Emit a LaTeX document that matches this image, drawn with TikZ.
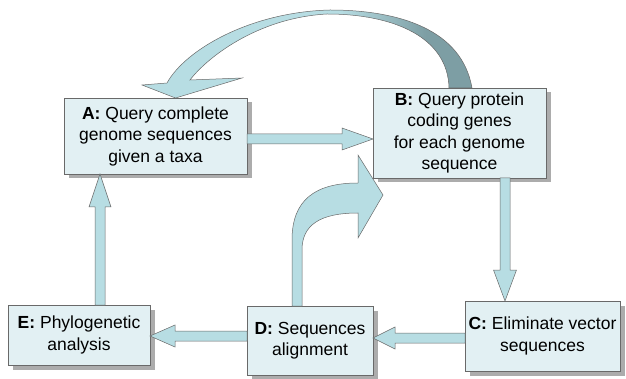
\documentclass[tikz,border=0pt]{standalone}
\usepackage{fontspec}
\setmainfont{Liberation Sans}
\usetikzlibrary{calc,shadows}

\definecolor{boxfill}{RGB}{226,240,243}
\definecolor{arrowfill}{RGB}{183,221,227}
\definecolor{arrowdark}{RGB}{125,158,164}
\definecolor{edgegray}{RGB}{105,105,105}
\definecolor{shadowgray}{RGB}{172,172,172}

\pgfdeclarehorizontalshading{arcshade}{100bp}{color(0bp)=(arrowfill); color(55bp)=(arrowfill); color(68bp)=(arrowdark); color(100bp)=(arrowdark)}

\tikzset{
  stepbox/.style={draw=edgegray, line width=0.6pt, fill=boxfill, inner sep=0pt, outer sep=0pt,
    align=center, font=\fontsize{17.5}{21.5}\selectfont,
    drop shadow={shadow xshift=4.5pt, shadow yshift=-4.5pt, fill=shadowgray, opacity=1}},
  blockarrow/.style={fill=arrowfill, draw=edgegray, line width=0.5pt, line join=miter},
}

% straight block arrow: #1 start, #2 tip, #3 head length, #4 head half width
\newcommand\blockarrow[4]{%
  \coordinate (hb) at ($(#2)!#3pt!(#1)$);
  \path[blockarrow] ($(#1)!5pt!90:(#2)$) -- ($(hb)!5pt!-90:(#1)$) -- ($(hb)!#4pt!-90:(#1)$)
    -- (#2) -- ($(hb)!#4pt!90:(#1)$) -- ($(hb)!5pt!90:(#1)$) -- ($(#1)!5pt!-90:(#2)$) -- cycle;
}

\begin{document}
\begin{tikzpicture}[x=1pt,y=-1pt]
\useasboundingbox (0,0) rectangle (626,379);

% process steps
\node[stepbox, minimum width=183pt, minimum height=76pt] (A) at (155.5,136)
  {\textbf{A:} Query complete\\genome sequences\\given a taxa};
\node[stepbox, minimum width=173pt, minimum height=90pt] (B) at (459.5,133)
  {\textbf{B:} Query protein\\coding genes\\for each genome\\sequence};
\node[stepbox, minimum width=155pt, minimum height=70pt] (C) at (542.5,336)
  {\textbf{C:} Eliminate vector\\sequences};
\node[stepbox, minimum width=126pt, minimum height=69pt] (D) at (310,340.5)
  {\textbf{D:} Sequences\\alignment};
\node[stepbox, minimum width=142pt, minimum height=60pt] (E) at (79,335)
  {\textbf{E:} Phylogenetic\\analysis};

% A -> B
\coordinate (ab1) at ($(A.east)+(0,3)$);
\coordinate (ab2) at ($(B.west)+(0,6)$);
\blockarrow{ab1}{ab2}{31}{11}
% B -> C
\coordinate (bc1) at ($(B.south)+(45.5,0)$);
\coordinate (bc2) at (bc1 |- C.north);
\blockarrow{bc1}{bc2}{31}{11.5}
% C -> D
\coordinate (cd1) at ($(C.west)+(0,2)$);
\coordinate (cd2) at (D.east |- cd1);
\blockarrow{cd1}{cd2}{22}{11}
% D -> E
\coordinate (de1) at ($(D.west)+(0,-4.5)$);
\coordinate (de2) at (E.east |- de1);
\blockarrow{de1}{de2}{25}{11}
% E -> A
\coordinate (ea1) at ($(E.north)+(21,0)$);
\coordinate (ea2) at (ea1 |- A.south);
\blockarrow{ea1}{ea2}{33}{11}

% D -> B, bent upwards
\coordinate (db1) at ($(D.north)+(-18,0)$);
\coordinate (db2) at ($(D.north)+(-8,0)$);
\coordinate (dbt) at ($(B.south west)+(10,17)$);
\path[blockarrow] (db1) -- (292,240) .. controls (292,200) and (315,183) .. (358,183)
  -- (358,155) -- (dbt) -- (358,238) -- (358,213)
  .. controls (320,213) and (302,225) .. (302,250) -- (db2) -- cycle;

% B -> A, arching over the top
\coordinate (ba1) at ($(B.north)+(12.5,0)$);
\coordinate (ba2) at ($(B.north)+(-10.5,0)$);
\coordinate (bat) at ($(A.north)+(20,0)$);
\path[draw=edgegray, line width=0.5pt, shading=arcshade]
  (ba2) .. controls (448,38) and (395,14) .. (327,14)
  .. controls (255,18) and (205,60) .. (190,80)
  -- (242,78) -- (bat) -- (142,85) -- (167,83)
  .. controls (185,50) and (250,12) .. (330,10)
  .. controls (400,10) and (462,30) .. (ba1) -- cycle;
\end{tikzpicture}
\end{document}
